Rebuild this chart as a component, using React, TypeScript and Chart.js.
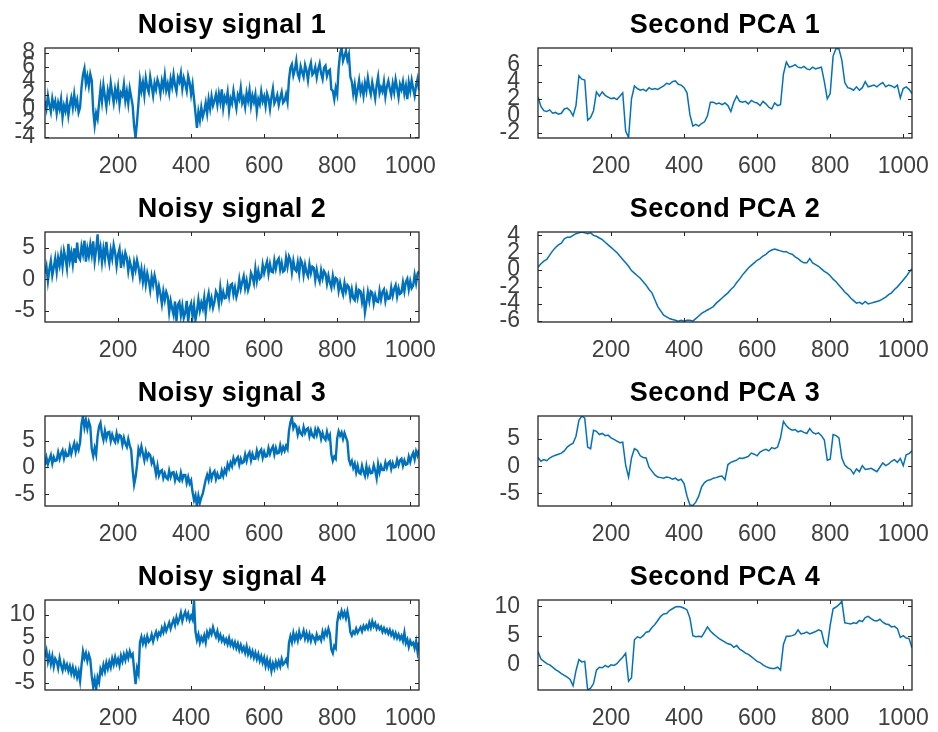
import React, { useEffect, useRef } from "react";
import { Chart, registerables } from "chart.js";

Chart.register(...registerables);

// ---------------- data ----------------
const X_TICKS = [200, 400, 600, 800, 1000];
const X_MAX = 1024;
const NOISY_STEP = 4; // sample spacing of the noisy series
const PCA_STEP = 8; // sample spacing of the PCA series

const titles = [
  "Noisy signal 1", "Second PCA 1",
  "Noisy signal 2", "Second PCA 2",
  "Noisy signal 3", "Second PCA 3",
  "Noisy signal 4", "Second PCA 4",
];

const noisy1 = [
  1.2, 0.1, 1.9, 0.6, -0.4, 1.5, 0.3, 1.1,
  -0.6, 0.9, 0.0, 1.4, -1.2, 0.5, -0.3, 1.1, -0.9, 0.6,
  1.6, 0.2, 2.1, 0.4, 1.3, -0.5,
  0.2,
  3.1, 4.9, 5.8, 3.6, 4.7, 3.3, 5.0, 4.1,
  -0.2, -2.3, -0.6, -1.4,
  0.8,
  2.9, 1.1, 3.4, 1.8, 0.4, 2.6, 1.5, 3.7, 2.2, 0.9, 2.8, 1.6, 3.1, 0.7, 2.3, 1.9, 3.5, 1.2, 2.5, 0.8, 2.9, 1.7,
  0.5, -2.4, -4.1, -1.8, 0.9,
  4.1, 2.6, 3.8, 2.0, 4.4, 3.1, 2.4, 4.6, 3.3, 1.9, 3.7, 2.8, 4.2, 3.5, 2.2, 4.0, 3.0, 4.8, 2.7, 3.6,
  2.3, 4.3, 3.2, 4.9, 3.4, 2.5, 4.5, 3.9, 5.1, 2.9, 4.4, 3.6, 2.6, 4.7, 3.8, 2.1, 3.5,
  1.5, -0.6, -2.7, -0.4, -1.6, 0.2, -1.1, -0.3,
  0.9, -0.6, 1.4, 0.1, 1.8, 0.5, 1.2, 2.1,
  0.6, 2.2, 1.0, 2.8, 0.2, 1.7, 1.1, 2.4, -0.2, 1.5, 0.8, 2.6, 1.3, 0.1, 2.0, 1.4, 3.0, 0.9, 1.6, 0.3,
  2.3, 1.2, 2.7, 0.5, 1.9, 1.0, 2.1, -0.3, 1.4, 0.7, 2.5, 1.1, 1.8, 0.4, 2.2, 1.5, 0.0, 1.7, 2.9, 0.8,
  1.3, 2.0, 0.6, 1.6, 2.4, 0.9, 1.2, 2.1, 1.0,
  4.2, 5.9, 6.4, 4.8, 5.6, 6.9, 5.0, 4.4, 6.1, 5.3, 4.6, 6.3, 5.5, 4.1, 5.8, 6.6, 4.9, 5.2, 6.0, 4.5,
  5.7, 6.5, 5.1, 4.3, 5.9, 6.2, 4.7, 5.4, 5.6, 2.8,
  2.6, 1.4, 3.0, 2.1,
  5.8, 7.9, 8.7, 6.9, 7.6, 8.3, 7.0, 7.8, 4.6,
  3.9, 2.2, 3.5, 1.6, 2.8, 4.1, 2.4, 3.3, 1.9, 3.7, 2.6, 4.4, 3.0, 2.1, 3.8, 2.7, 1.5, 3.4, 4.6, 2.3,
  3.1, 2.5, 3.9, 1.8, 3.2, 4.0, 2.9, 2.0, 3.6, 2.4, 4.2, 3.0, 1.7, 3.5, 2.8, 3.9, 2.2, 3.3, 1.4, 3.8,
  2.6, 4.1, 2.9, 1.9, 3.4, 4.3, 2.7,
];

const pca1 = [
  2.2, 1.1, 0.6, 0.5, 0.7, 0.3, 0.4, 0.2, 0.3, 0.8, 0.9, 0.6, 0.0, 1.2, 4.7, 4.3,
  4.2, -0.5, -0.2, 0.6, 2.8, 2.3, 2.8, 2.4, 2.2, 2.0, 2.1, 1.9, 2.3, 2.7, -1.8, -2.55,
  2.0, 3.5, 3.2, 3.0, 3.1, 2.9, 3.3, 3.1, 3.2, 3.1, 3.3, 3.5, 3.8, 3.7, 4.0, 4.1,
  3.7, 3.6, 3.3, 2.7, 0.1, -1.2, -1.0, -1.2, -0.9, -0.7, 0.0, 1.6, 1.6, 1.4, 1.5, 1.3,
  1.5, 1.2, 0.5, 1.6, 2.3, 1.7, 1.6, 1.7, 1.4, 1.8, 1.6, 1.5, 1.2, 1.7, 1.4, 1.0,
  0.8, 1.5, 1.2, 1.3, 4.9, 6.3, 5.7, 5.8, 6.0, 5.7, 5.6, 5.8, 5.5, 5.4, 5.7, 5.5,
  5.6, 5.7, 4.0, 2.0, 2.6, 7.0, 7.9, 7.85, 6.5, 3.9, 3.3, 3.2, 3.0, 3.4, 3.0, 3.3,
  4.0, 3.4, 3.5, 3.6, 3.4, 3.7, 3.9, 3.4, 3.6, 3.5, 3.3, 3.6, 2.1, 3.2, 3.4, 3.1,
  2.6,
];

const noisy2 = [
  0.9, 2.0, -0.3, 1.6, 2.9, 0.6, 1.9, 3.3, 1.2, 3.4, 2.2, 4.0, 2.0, 4.5, 3.4, 1.8,
  5.6, 3.0, 4.2, 2.4, 4.9, 2.6, 5.8, 3.5, 3.1, 5.2, 4.0, 6.1, 2.8, 4.9, 3.7, 5.5,
  3.9, 6.0, 2.9, 4.7, 7.1, 3.6, 5.0, 2.7, 4.8, 3.2, 5.9, 3.8, 2.5, 4.6, 3.3, 5.4,
  4.2, 2.1, 3.9, 4.8, 1.8, 3.7, 2.6, 4.2, 3.4, 1.3, 2.9, 1.9, 0.6, 2.7, 1.5, 3.0,
  1.9, 0.2, 1.6, -0.4, 1.2, -0.8, 0.9, -0.2, -1.7, 0.4, -0.9, 0.6, -0.5, -2.6, -1.1, -2.3,
  -3.9, -1.9, -3.3, -2.0, -2.7, -5.2, -3.4, -4.6, -5.6, -3.5, -6.6, -4.0, -3.6, -5.7, -4.2, -6.1,
  -5.3, -3.4, -6.7, -4.5, -3.8, -5.9, -4.1, -6.4, -5.1, -3.2, -4.9, -3.7, -4.6, -2.9, -5.4, -3.3,
  -2.2, -4.1, -3.0, -4.5, -3.6, -1.9, -2.4, -3.9, -1.3, -3.2, -2.0, -3.0, -2.9, -1.1, -2.6, -0.9,
  -0.7, -2.4, -1.3, -2.8, -1.9, 0.0, -1.5, -0.4, 0.5, -1.4, -0.2, -1.7, -0.9, 1.0, 0.4, -0.6,
  1.7, -0.2, 1.3, 0.1, 0.4, 2.3, 1.0, 2.0, 2.8, 0.9, 2.4, 1.2, 1.1, 3.0, 1.7, 2.9,
  3.3, 1.5, 2.6, 1.2, 1.4, 3.4, 2.0, 3.6, 3.0, 1.1, 2.9, 1.6, 1.3, 2.7, 0.9, 3.1,
  2.6, 0.7, 2.3, 1.1, 0.5, 2.4, 1.0, 2.0, 1.8, -0.1, 1.5, 0.3, -0.4, 1.4, 0.2, 1.3,
  0.9, -0.7, 0.6, -0.5, -1.3, 0.5, -0.9, 0.2, 0.0, -1.8, -0.5, -1.6, -2.4, -0.6, -1.9, -0.9,
  -1.2, -2.9, -1.6, -3.0, -3.3, -1.5, -2.9, -1.7, -1.9, -3.6, -2.3, -5.2, -3.7, -2.0, -3.4, -1.9,
  -2.1, -3.8, -2.5, -3.5, -3.6, -1.8, -3.2, -2.0, -1.6, -3.4, -2.2, -3.1, -3.0, -1.3, -2.6, -1.5,
  -0.9, -2.7, -1.4, -2.3, -2.1, -0.5, -1.9, -0.4, 0.1, -1.6, -0.3, -1.4, -1.0, 0.7, -0.6, 0.9,
  1.3,
];

const pca2 = [
  0.3, 0.7, 1.0, 1.2, 1.7, 2.2, 2.6, 2.9, 3.1, 3.6, 3.8, 3.8, 4.0, 4.2, 4.3, 4.4,
  4.3, 4.2, 4.3, 4.0, 3.9, 3.7, 3.5, 3.2, 2.9, 2.6, 2.3, 2.0, 1.6, 1.2, 0.8, 0.4,
  -0.1, -0.4, -0.7, -1.0, -1.4, -1.8, -2.3, -2.7, -3.5, -4.3, -4.8, -5.3, -5.5, -5.7, -5.8, -5.9,
  -6.0, -5.9, -6.0, -5.9, -5.9, -6.0, -5.7, -5.4, -5.1, -4.9, -4.7, -4.5, -4.3, -3.9, -3.6, -3.3,
  -3.0, -2.7, -2.3, -2.0, -1.5, -1.1, -0.6, -0.2, 0.2, 0.5, 0.8, 1.1, 1.3, 1.6, 1.8, 2.1,
  2.3, 2.4, 2.3, 2.2, 2.1, 2.1, 1.9, 1.8, 1.5, 1.3, 1.0, 0.8, 0.8, 1.3, 0.8, 0.6,
  0.4, 0.1, -0.2, -0.4, -0.7, -1.1, -1.4, -1.8, -2.2, -2.6, -2.9, -3.3, -3.6, -3.9, -3.8, -4.0,
  -3.7, -4.0, -3.9, -3.8, -3.7, -3.6, -3.4, -3.2, -2.9, -2.7, -2.3, -2.0, -1.6, -1.2, -0.8, -0.3,
  0.1,
];

const noisy3 = [
  0.4, 1.8, 0.6, 1.5, 2.3, 0.7, 1.9, 1.2, 1.3, 2.8, 1.6, 2.6, 3.2, 1.7, 2.9, 2.1,
  2.2, 3.8, 2.5, 3.6, 4.5, 2.9, 4.2, 3.3, 4.6, 8.1, 9.5, 7.4, 8.8, 7.2, 8.5, 7.6,
  3.4, 2.1, 3.6, 2.4, 5.8, 7.6, 8.3, 6.2, 5.1, 6.8, 5.4, 6.5, 6.6, 4.9, 6.1, 5.2,
  4.7, 6.3, 5.0, 6.0, 5.8, 4.2, 5.5, 4.4, 3.8, 5.3, 4.1, 3.2, -0.5, -3.2, -1.8, 0.4,
  3.4, 2.5, 3.9, 2.6, 1.3, 2.9, 1.7, 2.6, 2.3, 0.8, 1.5, 0.2, -1.3, 0.3, -1.5, -0.7,
  -0.5, -2.0, -1.1, -1.9, -2.2, -0.6, -1.8, -1.0, -0.9, -2.4, -1.3, -2.2, -2.5, -1.0, -2.3, -1.4,
  -1.4, -2.9, -1.8, -3.0, -2.4, -4.6, -6.1, -5.2, -7.2, -5.3, -6.6, -5.6, -4.9, -3.6, -2.3, -1.4,
  -2.4, -0.8, -2.1, -1.1, -0.7, -2.2, -1.2, -2.0, -1.9, -0.6, -1.6, -0.4, -1.1, 0.6, -0.2, 0.9,
  0.2, 1.7, 0.8, 1.5, 1.9, 0.5, 1.6, 0.8, 1.0, 2.4, 1.2, 2.3, 2.8, 1.3, 2.5, 1.6,
  1.6, 3.1, 1.9, 2.9, 3.3, 1.8, 2.9, 2.0, 2.1, 3.6, 2.5, 3.4, 3.9, 2.4, 3.6, 2.6,
  2.7, 4.1, 2.9, 3.8, 3.1, 4.0, 3.4, 6.8, 8.4, 9.3, 7.3, 8.0, 7.6, 6.1, 7.2, 6.3,
  6.0, 7.5, 6.4, 7.1, 7.3, 5.8, 6.9, 5.9, 5.6, 7.0, 6.0, 7.2, 6.7, 5.3, 6.4, 5.5,
  5.1, 6.6, 5.4, 6.0, 2.4, 1.2, 2.0, 1.6, 5.4, 6.7, 5.9, 6.5, 5.3, 6.4, 5.6, 4.8,
  1.5, 0.6, 1.2, -0.1, 0.7, -0.9, 0.3, -1.0, -1.2, 0.3, -0.8, -1.6, 0.2, -1.3, -0.2, -1.1,
  -1.0, 0.4, -0.6, -2.0, 0.6, -0.9, 0.3, -0.5, -0.5, 0.9, -0.1, 0.8, 1.1, -0.3, 0.8, 0.0,
  0.1, 1.4, 0.4, 1.3, 1.6, 0.3, 1.3, 0.5, 0.6, 2.0, 1.0, 2.1, 2.7, 1.5, 3.0, 2.2,
  3.3,
];

const pca3 = [
  1.6, 0.9, 1.2, 1.0, 1.5, 1.8, 2.0, 2.2, 2.4, 2.8, 3.5, 3.9, 4.2, 5.5, 8.4, 9.2,
  8.8, 3.5, 3.2, 6.6, 6.4, 5.8, 6.0, 5.6, 5.7, 5.2, 4.9, 4.6, 4.3, 4.4, 0.2, -2.0,
  1.5, 3.2, 2.9, 1.9, 1.6, 1.5, -0.2, -0.9, -1.6, -2.0, -2.1, -2.2, -2.0, -2.1, -2.4, -2.2,
  -2.6, -2.4, -3.2, -5.5, -7.1, -7.2, -6.6, -5.5, -3.8, -3.0, -2.6, -2.5, -2.2, -2.1, -1.9, -1.8,
  -2.5, 0.3, 0.7, 0.9, 1.1, 1.5, 1.4, 1.6, 1.8, 2.4, 2.2, 1.9, 2.6, 2.9, 3.1, 2.8,
  3.4, 3.2, 3.5, 5.2, 8.2, 7.4, 6.9, 6.6, 6.7, 6.3, 6.5, 6.2, 6.0, 6.9, 6.2, 5.9,
  6.1, 5.6, 4.8, 1.1, 1.3, 5.8, 5.6, 5.2, 1.5, 0.2, -0.3, -0.6, -1.4, -0.5, -1.0, 0.1,
  -0.6, -0.5, -0.4, -0.7, -1.0, -0.2, 0.6, 0.1, 0.4, 0.9, 1.2, 0.7, 1.4, 0.1, 2.1, 2.3,
  2.8,
];

const noisy4 = [
  0.6, 2.0, -0.4, 1.1, -0.9, 0.8, -1.4, 0.3, -0.3, -1.8, 0.4, -1.2, -2.3, -0.6, -1.9, -1.0,
  -2.4, -1.3, -2.9, -1.6, -3.3, -2.1, -3.8, -2.5, -4.6, -1.2, 1.9, 0.4, 1.5, -0.2, 1.2, 0.1,
  -3.5, -5.9, -4.2, -6.5, -3.8, -4.9, -2.0, -2.9, -1.1, -2.5, -0.6, -1.9, -0.4, -1.6, 0.3, -1.0,
  0.6, -0.8, 0.2, -1.2, 0.9, -0.3, 1.2, 0.0, 1.6, 0.4, 1.9, 0.8, 1.3, -2.1, -5.3, -1.8,
  -3.0, 3.9, 5.1, 3.6, 4.8, 3.5, 5.2, 4.0, 4.4, 5.6, 4.1, 5.3, 6.2, 4.9, 6.0, 5.5,
  7.0, 6.1, 7.6, 6.4, 7.3, 8.2, 6.9, 8.0, 8.9, 7.7, 9.4, 8.2, 9.1, 10.4, 8.6, 9.8,
  10.6, 9.2, 10.2, 8.8, 9.7, 8.9, 13.1, 6.2, 4.4, 5.6, 3.8, 5.0, 4.2, 5.4, 3.9, 6.1,
  5.2, 6.5, 5.7, 7.2, 6.0, 5.1, 6.3, 4.6, 5.5, 4.2, 5.0, 3.8, 4.6, 3.5, 4.8, 3.3,
  4.1, 2.9, 3.9, 2.6, 3.6, 2.2, 3.3, 2.0, 2.8, 1.6, 3.0, 1.3, 2.3, 0.9, 1.9, 0.5,
  1.6, 0.2, 1.3, -0.2, 0.8, -0.6, 0.5, -1.3, 0.1, -1.5, -0.3, -2.4, -0.8, -1.9, -0.4, -1.5,
  -0.3, -1.4, 0.2, -1.0, -0.6, 0.1, -0.9, 3.8, 5.2, 3.9, 5.9, 4.4, 5.6, 4.3, 6.2, 4.8,
  5.3, 6.4, 4.7, 5.9, 4.5, 5.7, 4.2, 5.4, 4.9, 4.0, 5.6, 4.6, 5.1, 4.3, 6.2, 5.0,
  6.4, 5.5, 6.9, 5.8, 2.3, 1.5, 3.1, 2.6, 8.2, 10.1, 9.4, 10.8, 9.6, 10.5, 9.2, 10.7,
  9.0, 6.1, 5.4, 6.3, 5.8, 6.9, 6.0, 6.6, 7.2, 6.3, 7.5, 6.8, 7.6, 6.9, 8.2, 7.1,
  8.5, 7.4, 8.1, 6.9, 7.6, 6.8, 7.3, 6.2, 7.0, 6.1, 6.7, 5.8, 6.6, 5.5, 6.2, 5.0,
  5.9, 4.8, 5.6, 4.6, 5.3, 4.2, 6.0, 3.7, 4.5, 2.9, 4.2, 3.4, 3.8, 2.6, 4.1, 1.8,
  3.9,
];

const pca4 = [
  2.3, 1.0, 0.6, 0.2, 0.0, -0.4, -0.8, -1.1, -1.5, -1.8, -2.1, -2.5, -3.6, -1.0, 0.9, 0.5,
  0.6, -4.3, -4.0, -3.2, -0.9, -0.4, -0.5, -0.1, -0.4, 0.0, -0.1, 0.2, 0.8, 1.3, 2.0, -2.8,
  -2.2, 4.3, 4.8, 4.6, 5.0, 5.6, 5.7, 6.4, 6.9, 7.6, 8.3, 8.7, 8.8, 9.3, 9.6, 9.9,
  10.0, 9.9, 9.7, 9.4, 8.0, 5.0, 4.8, 4.9, 4.8, 5.6, 6.5, 5.8, 5.3, 4.9, 4.5, 4.2,
  3.9, 3.6, 3.5, 3.0, 3.3, 2.7, 2.4, 2.0, 1.8, 1.4, 1.0, 0.6, 0.4, 0.0, -0.3, -0.5,
  -0.6, -0.6, -0.4, -0.9, 3.5, 4.9, 4.9, 5.0, 5.2, 6.0, 5.3, 5.4, 5.6, 5.3, 5.5, 5.7,
  6.0, 5.8, 3.7, 3.1, 6.8, 9.6, 9.9, 10.3, 10.9, 7.2, 7.1, 7.0, 7.2, 7.1, 7.6, 7.4,
  8.1, 8.3, 7.9, 7.6, 7.5, 7.8, 7.3, 7.0, 6.9, 6.5, 6.6, 6.2, 4.7, 5.0, 4.6, 4.5,
  2.9,
];

const yTicksNoisy1 = [-4, -2, 0, 2, 4, 6, 8];
const yTicksPca1 = [-2, 0, 2, 4, 6];
const yTicksNoisy2 = [-5, 0, 5];
const yTicksPca2 = [-6, -4, -2, 0, 2, 4];
const yTicksNoisy3 = [-5, 0, 5];
const yTicksPca3 = [-5, 0, 5];
const yTicksNoisy4 = [-5, 0, 5, 10];
const yTicksPca4 = [0, 5, 10];

const yRangeNoisy1 = [-4.14, 8.72];
const yRangePca1 = [-2.6, 7.95];
const yRangeNoisy2 = [-6.74, 7.47];
const yRangePca2 = [-6.1, 4.4];
const yRangeNoisy3 = [-7.19, 9.56];
const yRangePca3 = [-7.3, 9.2];
const yRangeNoisy4 = [-6.6, 13.2];
const yRangePca4 = [-4.3, 11.1];

// ---------------- layout / style ----------------
const LINE_COLOR = "#0072BD";
const AXIS_COLOR = "#262626";
const TICK_LABEL_COLOR = "#404040";
const FONT = '"Liberation Sans", Arial, Helvetica, sans-serif';
const BOX_W = 374;
const BOX_H = 90;
const TOP_AREA = 48;
const BOTTOM_AREA = 45;
const ROW_PITCH = 184;

const panels = [
  { title: titles[0], values: noisy1, step: NOISY_STEP, range: yRangeNoisy1, ticks: yTicksNoisy1, col: 0, row: 0 },
  { title: titles[1], values: pca1, step: PCA_STEP, range: yRangePca1, ticks: yTicksPca1, col: 1, row: 0 },
  { title: titles[2], values: noisy2, step: NOISY_STEP, range: yRangeNoisy2, ticks: yTicksNoisy2, col: 0, row: 1 },
  { title: titles[3], values: pca2, step: PCA_STEP, range: yRangePca2, ticks: yTicksPca2, col: 1, row: 1 },
  { title: titles[4], values: noisy3, step: NOISY_STEP, range: yRangeNoisy3, ticks: yTicksNoisy3, col: 0, row: 2 },
  { title: titles[5], values: pca3, step: PCA_STEP, range: yRangePca3, ticks: yTicksPca3, col: 1, row: 2 },
  { title: titles[6], values: noisy4, step: NOISY_STEP, range: yRangeNoisy4, ticks: yTicksNoisy4, col: 0, row: 3 },
  { title: titles[7], values: pca4, step: PCA_STEP, range: yRangePca4, ticks: yTicksPca4, col: 1, row: 3 },
];

const COLS = [
  { left: 0, L: 45, R: 30, pad: 10 },
  { left: 478, L: 60, R: 26, pad: 18 },
];

function zeroPadding(s: any) {
  s.paddingLeft = 0;
  s.paddingRight = 0;
  s.paddingTop = 0;
  s.paddingBottom = 0;
}

function Panel(props: any) {
  const { title, values, step, range, ticks, col, row } = props;
  const ref = useRef<HTMLCanvasElement | null>(null);
  const geo = COLS[col];
  const width = geo.L + BOX_W + geo.R;
  const height = TOP_AREA + BOX_H + BOTTOM_AREA;
  const noisy = step === NOISY_STEP;

  useEffect(() => {
    if (!ref.current) return;
    const pts = values.map((v: number, i: number) => ({ x: i * step, y: v }));
    const framePlugin = {
      id: "frame" + col + row,
      afterDraw(chart: any) {
        const { ctx, chartArea: a } = chart;
        const xs = chart.scales.x;
        const ys = chart.scales.y;
        ctx.save();
        ctx.strokeStyle = AXIS_COLOR;
        ctx.lineWidth = 1;
        ctx.beginPath();
        X_TICKS.forEach((v) => {
          const p = Math.round(xs.getPixelForValue(v)) + 0.5;
          ctx.moveTo(p, a.bottom);
          ctx.lineTo(p, a.bottom - 4);
          ctx.moveTo(p, a.top);
          ctx.lineTo(p, a.top + 4);
        });
        ticks.forEach((v: number) => {
          const p = Math.round(ys.getPixelForValue(v)) + 0.5;
          ctx.moveTo(a.left, p);
          ctx.lineTo(a.left + 4, p);
          ctx.moveTo(a.right, p);
          ctx.lineTo(a.right - 4, p);
        });
        ctx.stroke();
        ctx.lineWidth = 1.3;
        ctx.strokeRect(a.left, a.top, a.right - a.left, a.bottom - a.top);
        ctx.fillStyle = "#000000";
        ctx.font = "bold 27px " + FONT;
        ctx.textAlign = "center";
        ctx.textBaseline = "alphabetic";
        (ctx as any).letterSpacing = "0.5px";
        ctx.fillText(title, (a.left + a.right) / 2, a.top - 15);
        ctx.restore();
      },
    };

    const chart = new Chart(ref.current, {
      type: "line",
      data: {
        datasets: [
          {
            data: pts,
            borderColor: LINE_COLOR,
            borderWidth: noisy ? 2.4 : 1.5,
            borderJoinStyle: "miter",
            pointRadius: 0,
            tension: 0,
            fill: false,
          },
        ],
      },
      options: {
        animation: false,
        responsive: false,
        maintainAspectRatio: false,
        layout: { padding: { top: TOP_AREA, right: geo.R, bottom: 0, left: 0 } },
        plugins: {
          legend: { display: false },
          tooltip: { enabled: false },
          title: { display: false },
        },
        scales: {
          x: {
            type: "linear",
            min: 0,
            max: X_MAX,
            grid: { display: false, drawTicks: false },
            border: { display: false },
            ticks: {
              autoSkip: false,
              maxRotation: 0,
              padding: 15,
              color: TICK_LABEL_COLOR,
              font: { family: FONT, size: 23 },
              callback: (v: any) => String(v),
            },
            afterBuildTicks: (s: any) => {
              s.ticks = X_TICKS.map((v) => ({ value: v }));
            },
            afterFit: (s: any) => {
              s.height = BOTTOM_AREA;
              zeroPadding(s);
            },
          },
          y: {
            type: "linear",
            min: range[0],
            max: range[1],
            grid: { display: false, drawTicks: false },
            border: { display: false },
            ticks: {
              autoSkip: false,
              padding: geo.pad,
              color: TICK_LABEL_COLOR,
              font: { family: FONT, size: 23 },
              callback: (v: any) => String(v),
            },
            afterBuildTicks: (s: any) => {
              s.ticks = ticks.map((v: number) => ({ value: v }));
            },
            afterFit: (s: any) => {
              s.width = geo.L;
              zeroPadding(s);
            },
          },
        },
      },
      plugins: [framePlugin],
    } as any);
    return () => chart.destroy();
  }, []);

  return (
    <canvas
      ref={ref}
      width={width}
      height={height}
      style={{ position: "absolute", left: geo.left, top: row * ROW_PITCH, width, height }}
    />
  );
}

export default function App() {
  return (
    <div style={{ position: "absolute", left: 0, top: 0, width: 938, height: 732, overflow: "hidden", background: "#ffffff" }}>
      {panels.map((p, i) => (
        <Panel key={i} {...p} />
      ))}
    </div>
  );
}
